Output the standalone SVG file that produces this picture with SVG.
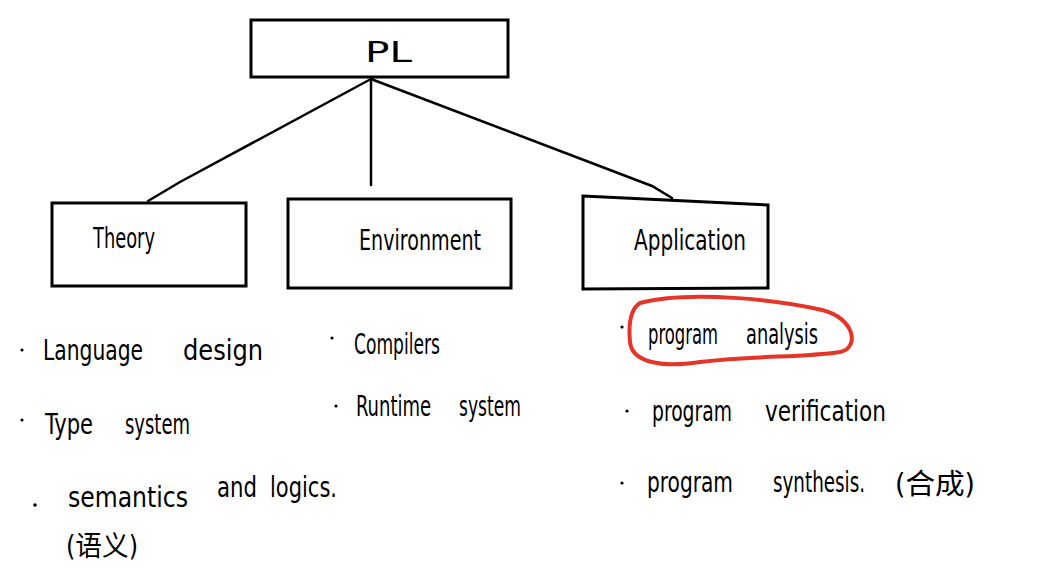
<svg xmlns="http://www.w3.org/2000/svg" width="1059" height="586" viewBox="0 0 1059 586">
<style>
.box{fill:none;stroke:#000;stroke-width:3}
.ln{fill:none;stroke:#000;stroke-width:2.5;stroke-linecap:round}
.t{font-family:"Liberation Sans Narrow","DejaVu Sans Condensed","Liberation Sans","Noto Sans CJK SC",sans-serif;font-size:28px;fill:#000}
.dot{fill:#000}
</style>
<rect width="1059" height="586" fill="#fff"/>
<g id="connectors">
<path class="ln" d="M371 79 L180 182 L148 201"/>
<path class="ln" d="M371 79 L371 185"/>
<path class="ln" d="M371 79 L652 186 L672 198"/>
</g>
<g id="node-pl">
<rect class="box" x="251" y="20" width="257" height="57"/>
<text class="t" x="365" y="62" textLength="47" lengthAdjust="spacingAndGlyphs" font-size="44">PL</text>
</g>
<g id="node-theory">
<rect class="box" x="52" y="203" width="194" height="83"/>
<text class="t" x="93" y="248" textLength="62" lengthAdjust="spacingAndGlyphs" font-size="26">Theory</text>
</g>
<g id="node-environment">
<rect class="box" x="288" y="199" width="223" height="89"/>
<text class="t" x="359" y="250" textLength="122" lengthAdjust="spacingAndGlyphs" font-size="28">Environment</text>
</g>
<g id="node-application">
<path class="box" d="M583 196 L768 205 L768 288 L583 289 Z"/>
<text class="t" x="634" y="250" textLength="112" lengthAdjust="spacingAndGlyphs" font-size="30">Application</text>
</g>
<g id="theory-items">
<circle class="dot" cx="22" cy="350" r="1.6"/>
<text class="t" x="43" y="360" textLength="100" lengthAdjust="spacingAndGlyphs" font-size="32">Language</text>
<text class="t" x="183" y="360" textLength="80" lengthAdjust="spacingAndGlyphs" font-size="32">design</text>
<circle class="dot" cx="22" cy="420" r="1.6"/>
<text class="t" x="45" y="434" textLength="48" lengthAdjust="spacingAndGlyphs" font-size="28">Type</text>
<text class="t" x="125" y="434" textLength="65" lengthAdjust="spacingAndGlyphs" font-size="28">system</text>
<circle class="dot" cx="35" cy="505" r="1.8"/>
<text class="t" x="68" y="507" textLength="120" lengthAdjust="spacingAndGlyphs" font-size="32">semantics</text>
<text class="t" x="217" y="497" textLength="40" lengthAdjust="spacingAndGlyphs" font-size="30">and</text>
<text class="t" x="270" y="497" textLength="67" lengthAdjust="spacingAndGlyphs" font-size="30">logics.</text>
<text class="t" x="66" y="556" textLength="72" lengthAdjust="spacingAndGlyphs" font-size="28">(语义)</text>
</g>
<g id="environment-items">
<circle class="dot" cx="332" cy="338" r="1.6"/>
<text class="t" x="354" y="354" textLength="86" lengthAdjust="spacingAndGlyphs" font-size="28">Compilers</text>
<circle class="dot" cx="336" cy="406" r="1.6"/>
<text class="t" x="356" y="416" textLength="75" lengthAdjust="spacingAndGlyphs" font-size="28">Runtime</text>
<text class="t" x="459" y="416" textLength="62" lengthAdjust="spacingAndGlyphs" font-size="28">system</text>
</g>
<g id="application-items">
<circle class="dot" cx="622" cy="327" r="1.6"/>
<text class="t" x="648" y="344" textLength="70" lengthAdjust="spacingAndGlyphs" font-size="26">program</text>
<text class="t" x="746" y="344" textLength="72" lengthAdjust="spacingAndGlyphs" font-size="26">analysis</text>
<path d="M640 303 C690 290 780 300 822 310 C855 318 860 348 840 352 C800 358 760 355 700 362 C660 368 632 362 630 342 C628 320 632 308 640 303 Z" fill="none" stroke="#e53528" stroke-width="4" stroke-linejoin="round"/>
<circle class="dot" cx="627" cy="411" r="1.6"/>
<text class="t" x="652" y="421" textLength="80" lengthAdjust="spacingAndGlyphs" font-size="28">program</text>
<text class="t" x="765" y="421" textLength="121" lengthAdjust="spacingAndGlyphs" font-size="28">verification</text>
<circle class="dot" cx="622" cy="483" r="1.6"/>
<text class="t" x="647" y="492" textLength="86" lengthAdjust="spacingAndGlyphs" font-size="30">program</text>
<text class="t" x="773" y="492" textLength="92" lengthAdjust="spacingAndGlyphs" font-size="30">synthesis.</text>
<text class="t" x="895" y="494" textLength="80" lengthAdjust="spacingAndGlyphs" font-size="26">(合成)</text>
</g>
</svg>
